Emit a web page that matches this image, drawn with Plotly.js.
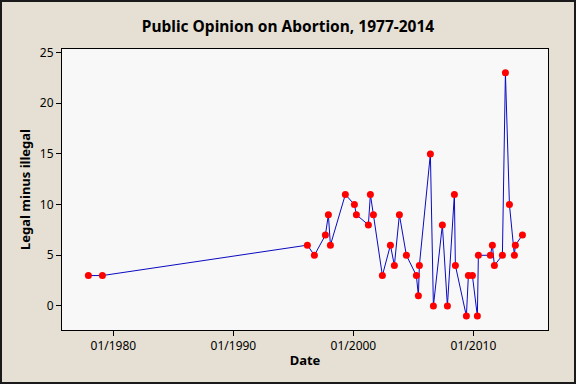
<!DOCTYPE html>
<html>
<head>
<meta charset="utf-8">
<script src="https://cdn.plot.ly/plotly-3.0.1.min.js"></script>
<style>
html,body{margin:0;padding:0;background:#E6E0D4;}
#wrap{position:relative;width:576px;height:384px;}
#chart{width:576px;height:384px;}
#frame{position:absolute;left:0;top:0;width:576px;height:384px;box-sizing:border-box;border:2px solid #1a1a1a;pointer-events:none;}
</style>
</head>
<body>
<div id="wrap"><div id="chart"></div><div id="frame"></div></div>
<script>
const dates = ['1977-12-01','1979-02-01','1996-03-01','1996-10-01','1997-09-01','1997-12-01','1998-02-01',
  '1999-05-01','2000-02-01','2000-04-01','2001-04-01','2001-06-01','2001-09-01','2002-06-01',
  '2003-02-01','2003-06-01','2003-11-01','2004-06-01','2005-04-01','2005-06-01','2005-07-01',
  '2006-06-01','2006-09-01','2007-06-01','2007-11-01','2008-06-01','2008-07-01','2009-06-01',
  '2009-08-01','2009-12-01','2010-05-01','2010-06-01','2011-06-01','2011-08-01','2011-10-01',
  '2012-06-01','2012-09-01','2013-01-01','2013-06-01','2013-07-01','2014-02-01'];
const legalMinusIllegal = [3,3,6,5,7,9,6,11,10,9,8,11,9,3,6,4,9,5,3,1,4,15,0,8,0,11,4,-1,3,3,-1,5,5,6,4,5,23,10,5,6,7];
const xTickVals = ['1980-01-01','1990-01-01','2000-01-01','2010-01-01'];
const xTickText = ['01/1980','01/1990','01/2000','01/2010'];
const yTickVals = [0,5,10,15,20,25];

const fontFam = 'Noto Sans, DejaVu Sans, sans-serif';
const trace = {
  x: dates, y: legalMinusIllegal, type: 'scatter', mode: 'lines+markers',
  line: {color: '#0A0AC0', width: 1},
  marker: {color: '#FF0000', size: 7, symbol: 'circle'},
  hoverinfo: 'x+y'
};
const layout = {
  width: 576, height: 384,
  paper_bgcolor: '#E6E0D4', plot_bgcolor: '#F8F8F8',
  margin: {l: 62, r: 28, t: 49, b: 54},
  showlegend: false,
  title: {text: 'Public Opinion on Abortion, 1977-2014', font: {family: fontFam, size: 15.5, color: '#000', weight: 'bold'},
    x: 0.5, xanchor: 'center', y: 1 - 27/384, yanchor: 'middle'},
  xaxis: {
    type: 'date', range: ['1975-09-20', '2016-03-20'],
    tickvals: xTickVals, ticktext: xTickText,
    ticks: 'outside', ticklen: 5, tickcolor: '#000', tickwidth: 1,
    showgrid: false, zeroline: false,
    showline: true, linecolor: '#000', linewidth: 1, mirror: true,
    tickfont: {family: fontFam, size: 12, color: '#000'},
    title: {text: 'Date', font: {family: fontFam, size: 13, color: '#000', weight: 'bold'}, standoff: 2}
  },
  yaxis: {
    range: [-2.37, 25.35],
    tickvals: yTickVals,
    ticks: 'outside', ticklen: 5, tickcolor: '#000', tickwidth: 1,
    showgrid: false, zeroline: false,
    showline: true, linecolor: '#000', linewidth: 1, mirror: true,
    tickfont: {family: fontFam, size: 12, color: '#000'},
    title: {text: 'Legal minus illegal', font: {family: fontFam, size: 13, color: '#000', weight: 'bold'}, standoff: 6}
  }
};
Plotly.newPlot('chart', [trace], layout, {displayModeBar: false, staticPlot: true});
</script>
</body>
</html>
